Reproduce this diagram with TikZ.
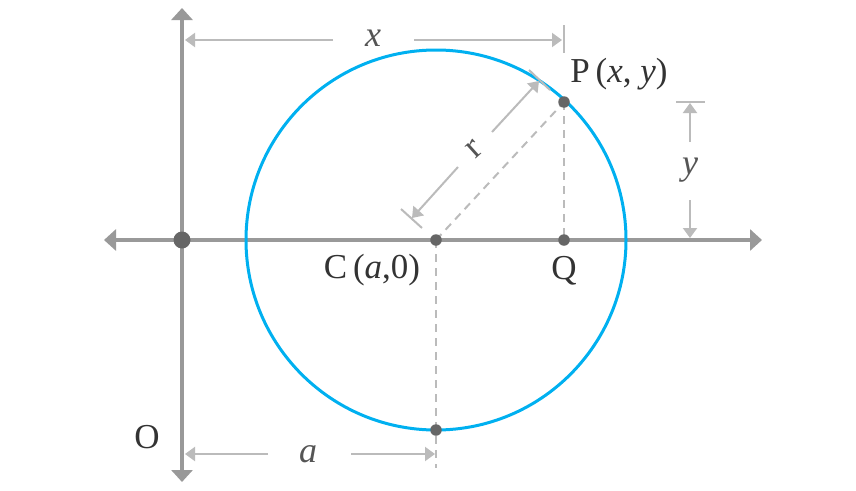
\documentclass[tikz,border=0pt]{standalone}
\usepackage{fontspec}
\setmainfont{Liberation Serif}
\usetikzlibrary{arrows.meta,calc}
\definecolor{axisgray}{HTML}{999999}
\definecolor{dimgray}{HTML}{BBBBBB}
\definecolor{dotgray}{HTML}{666666}
\definecolor{circblue}{HTML}{00B0F0}
\definecolor{txt}{HTML}{333333}
\definecolor{lbl}{HTML}{555555}
\begin{document}
\begin{tikzpicture}[x=1pt,y=-1pt,
 axisline/.style={draw=axisgray,line width=4pt,{Triangle[length=12pt,width=21pt]}-{Triangle[length=12pt,width=21pt]}},
 dimline/.style={draw=dimgray,line width=2pt,-{Triangle[length=10pt,width=14pt]}},
 ticksty/.style={draw=dimgray,line width=2pt},
 guide/.style={draw=dimgray,line width=2pt,dash pattern=on 8pt off 6pt},
 dotsty/.style={circle,fill=dotgray,inner sep=0pt,minimum size=11.5pt},
 ptlabel/.style={text=txt,font=\fontsize{35}{40}\selectfont,inner sep=0pt},
 dimlabel/.style={text=lbl,font=\fontsize{36}{40}\selectfont\itshape,inner sep=0pt}]
\useasboundingbox (0,0) rectangle (856,490);
% key points
\coordinate (O) at (182,240);
\coordinate (C) at (436,240);
\coordinate (P) at (564,102);
\coordinate (Q) at (564,240);
\coordinate (B) at (436,430);
\coordinate (Cend) at (436,468);
% axes ends
\coordinate (axL) at (104,240);
\coordinate (axR) at (762,240);
\coordinate (axT) at (182,8);
\coordinate (axB) at (182,482);
% guides
\draw[guide] (C) -- (P);
\draw[guide] (P) -- (Q);
\draw[guide] (C) -- (Cend);
% axes
\draw[axisline] (axL) -- (axR);
\draw[axisline] (axB) -- (axT);
% circle
\draw[circblue,line width=3pt] (C) circle[radius=190];
% dots
\node[dotsty,minimum size=17pt] (Odot) at (O) {};
\node[dotsty] (Cdot) at (C) {};
\node[dotsty] (Pdot) at (P) {};
\node[dotsty] (Qdot) at (Q) {};
\node[dotsty] (Bdot) at (B) {};
% x dimension
\coordinate (xL) at (185,40);
\coordinate (xR) at (562,40);
\coordinate (xg1) at (333,40);
\coordinate (xg2) at (414,40);
\coordinate (xt1) at (564,25);
\coordinate (xt2) at (564,53);
\node[dimlabel] (xlab) at (373,38) {x};
\draw[dimline] (xg1) -- (xL);
\draw[dimline] (xg2) -- (xR);
\draw[ticksty] (xt1) -- (xt2);
% y dimension
\coordinate (yt1) at (676,102);
\coordinate (yt2) at (705,102);
\coordinate (yU) at (690,103);
\coordinate (yD) at (690,238);
\coordinate (yg1) at (690,142);
\coordinate (yg2) at (690,200);
\node[dimlabel] (ylab) at (690,170) {y};
\draw[ticksty] (yt1) -- (yt2);
\draw[dimline] (yg1) -- (yU);
\draw[dimline] (yg2) -- (yD);
% a dimension
\coordinate (aL) at (185,454);
\coordinate (aR) at (435,454);
\coordinate (ag1) at (268,454);
\coordinate (ag2) at (351,454);
\node[dimlabel] (alab) at (308,454) {a};
\draw[dimline] (ag1) -- (aL);
\draw[dimline] (ag2) -- (aR);
% r dimension
\coordinate (rA) at (412,218);
\coordinate (rB) at (539,81);
\coordinate (rg1) at (458,167);
\coordinate (rg2) at (492,132);
\coordinate (rt1) at (401,209);
\coordinate (rt2) at (422,228);
\coordinate (rt3) at (529,70);
\coordinate (rt4) at (550,90);
\draw[dimline] (rg1) -- (rA);
\draw[dimline] (rg2) -- (rB);
\draw[ticksty] (rt1) -- (rt2);
\draw[ticksty] (rt3) -- (rt4);
\node[text=lbl,font=\fontsize{36}{40}\selectfont,inner sep=0pt,rotate=42] (rlab) at (474,149) {r};
% point labels
\node[ptlabel] (Plab) at (619,74) {P\thinspace(\textit{x}, \textit{y})};
\node[ptlabel] (Clab) at (372,270) {C\thinspace(\textit{a},0)};
\node[ptlabel] (Qlab) at (564,271) {Q};
\node[ptlabel] (Olab) at (147,437) {O};
\end{tikzpicture}
\end{document}
